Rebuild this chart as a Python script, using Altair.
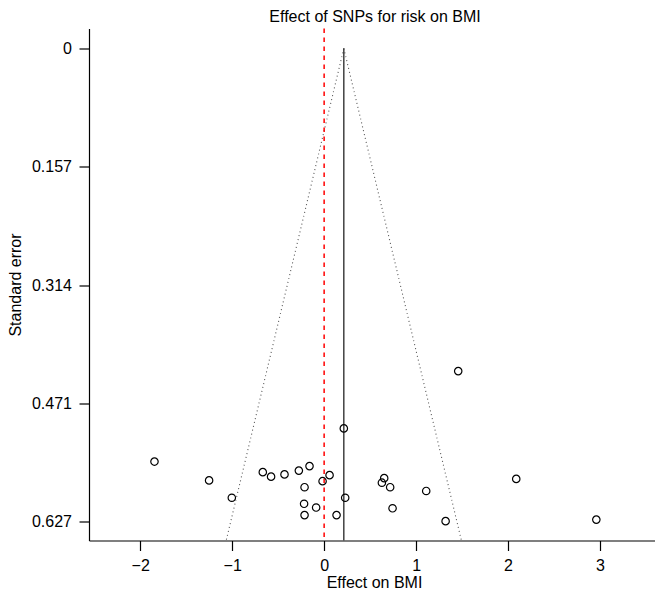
import altair as alt
import pandas as pd

# Causal effect estimates (beta) and standard errors for each SNP
beta = [-1.845, -1.251, -1.004, -0.667, -0.577, -0.431, -0.275, -0.159, -0.213, -0.017,
        0.059, 0.214, 0.229, -0.218, -0.087, -0.213, 0.135, 0.653, 0.628, 0.718,
        0.744, 1.110, 1.321, 1.458, 2.089, 2.960]
se = [0.548, 0.573, 0.596, 0.562, 0.568, 0.565, 0.560, 0.554, 0.582, 0.574,
      0.566, 0.504, 0.596, 0.604, 0.609, 0.619, 0.619, 0.570, 0.576, 0.582,
      0.610, 0.587, 0.627, 0.428, 0.571, 0.625]

# Overall (IVW) estimate and funnel edges
ivw = [0.214]
funnel_top_se = [0.0, 0.0]
funnel_bottom_se = [0.6527, 0.6527]
funnel_bottom_x = [-1.065, 1.493]
null_line = [0.0]

x_ticks = [-2, -1, 0, 1, 2, 3]
y_ticks = [0, 0.157, 0.314, 0.471, 0.627]

FONT = "Liberation Sans"
W, H = 566, 512

xscale = alt.Scale(domain=[-2.557, 3.598], nice=False, zero=False)
yscale = alt.Scale(domain=[-0.0265, 0.6527], nice=False, zero=False, reverse=True)

pts = pd.DataFrame({"beta": beta, "se": se})

xaxis = alt.Axis(values=x_ticks, format="d", title="Effect on BMI", grid=False, tickSize=10,
                 labelPadding=7, titleY=47, titleX=285, titleBaseline="alphabetic")
yaxis = alt.Axis(values=y_ticks, format=".3~f", title="Standard error", grid=False,
                 tickSize=10, labelPadding=7.5, titleX=-69, titleY=H / 2,
                 titleBaseline="alphabetic")

points = alt.Chart(pts).mark_point(
    filled=False, color="black", size=55, strokeWidth=1.2, opacity=1
).encode(
    x=alt.X("beta:Q", scale=xscale, axis=xaxis),
    y=alt.Y("se:Q", scale=yscale, axis=yaxis),
)

red = alt.Chart(pd.DataFrame({"x": null_line})).mark_rule(
    color="#ff0000", strokeDash=[4.5, 4.5], strokeWidth=1.5
).encode(x=alt.X("x:Q", scale=xscale))

vline = alt.Chart(pd.DataFrame({"x": ivw, "y": [0.0], "y2": [0.6527]})).mark_rule(
    color="#333333", strokeWidth=1.4
).encode(
    x=alt.X("x:Q", scale=xscale),
    y=alt.Y("y:Q", scale=yscale),
    y2="y2:Q",
)

funnel = alt.Chart(pd.DataFrame({
    "x": ivw * 2, "y": funnel_top_se, "x2": funnel_bottom_x, "y2": funnel_bottom_se
})).mark_rule(color="#555555", strokeWidth=1.1, strokeDash=[1, 3]).encode(
    x=alt.X("x:Q", scale=xscale),
    y=alt.Y("y:Q", scale=yscale),
    x2="x2:Q",
    y2="y2:Q",
)

chart = alt.layer(funnel, red, vline, points).properties(
    width=W,
    height=H,
    title=alt.TitleParams("Effect of SNPs for risk on BMI", fontSize=16, fontWeight="normal",
                          font=FONT, color="black", anchor="middle", offset=3, dx=3),
    autosize=alt.AutoSizeParams(type="none"),
    padding={"left": 81, "top": 20.5, "right": 0, "bottom": 51.5},
).configure_view(stroke="transparent").configure_axis(
    labelFont=FONT, titleFont=FONT, labelFontSize=16, titleFontSize=16,
    labelColor="black", titleColor="black", titleFontWeight="normal",
    domainColor="black", tickColor="black", domainWidth=1.2, tickWidth=1.2,
)

chart.save("out.html", embed_options={"renderer": "svg", "actions": False})
